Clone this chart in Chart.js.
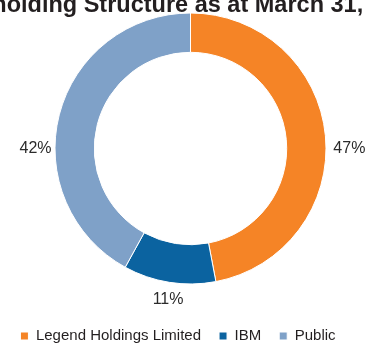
<!DOCTYPE html>
<html>
<head>
<meta charset="utf-8">
<script src="https://cdn.jsdelivr.net/npm/chart.js@4/dist/chart.umd.min.js"></script>
<style>
  html, body { margin: 0; padding: 0; background: #fff; }
  #wrap { width: 365px; height: 343px; position: relative; }
</style>
</head>
<body>
<div id="wrap"><canvas id="myChart"></canvas></div>
<script>
// data
var titleText = 'Shareholding Structure as at March 31, 2005';
var holders = ['Legend Holdings Limited', 'IBM', 'Public'];
var shares = [47, 11, 42];
var sliceColors = ['#F58426', '#0B63A0', '#7FA1C8'];

// percent labels outside the ring
var outsideLabels = {
    id: 'outsideLabels',
    afterDatasetsDraw: function (chart) {
        var ctx = chart.ctx;
        var meta = chart.getDatasetMeta(0);
        ctx.save();
        ctx.font = '16px "Liberation Sans", Arial, sans-serif';
        ctx.fillStyle = '#2b2b2b';
        ctx.textBaseline = 'middle';
        meta.data.forEach(function (arc, i) {
            var mid = (arc.startAngle + arc.endAngle) / 2;
            var r = arc.outerRadius + 8;
            var x = arc.x + Math.cos(mid) * r;
            var y = arc.y + Math.sin(mid) * r;
            var c = Math.cos(mid);
            if (c > 0.3) {
                ctx.textAlign = 'left';
                y = arc.y;
            } else if (c < -0.3) {
                ctx.textAlign = 'right';
                y = arc.y;
            } else {
                ctx.textAlign = 'center';
                y += Math.sin(mid) > 0 ? 9 : -9;
            }
            ctx.fillText(Math.round(shares[i]) + '%', x, y);
        });
        ctx.restore();
    }
};

// title is cut off by the top edge in the original, so it is drawn by hand
var clippedTitle = {
    id: 'clippedTitle',
    afterDraw: function (chart) {
        var ctx = chart.ctx;
        ctx.save();
        ctx.font = 'bold 23.5px "Liberation Sans", Arial, sans-serif';
        ctx.fillStyle = '#231f20';
        ctx.textAlign = 'center';
        ctx.textBaseline = 'alphabetic';
        ctx.fillText(titleText, 174.5, 12);
        ctx.restore();
    }
};

var ctx = document.getElementById('myChart').getContext('2d');

new Chart(ctx, {
    type: 'doughnut',
    data: {
        labels: holders,
        datasets: [{
            data: shares,
            backgroundColor: sliceColors,
            borderColor: '#ffffff',
            borderWidth: 1,
            radius: 135.5
        }]
    },
    options: {
        responsive: true,
        maintainAspectRatio: false,
        animation: false,
        cutout: '71%',
        layout: {
            padding: { top: 0, left: -9, right: 0, bottom: -10.5 }
        },
        plugins: {
            // empty box on the left, only to push the ring right of the legend centre
            title: {
                display: true,
                position: 'left',
                text: ' ',
                font: { size: 1 },
                padding: { top: 11.9, bottom: 11.9 }
            },
            tooltip: { enabled: false },
            legend: {
                position: 'bottom',
                title: {
                    display: true,
                    text: ' ',
                    font: { size: 1 },
                    padding: { top: 6.15, bottom: 6.15 }
                },
                labels: {
                    boxWidth: 8,
                    boxHeight: 8,
                    padding: 18,
                    color: '#231f20',
                    font: { family: '"Liberation Sans", Arial, sans-serif', size: 15 }
                }
            }
        }
    },
    plugins: [outsideLabels, clippedTitle]
});
</script>
</body>
</html>
